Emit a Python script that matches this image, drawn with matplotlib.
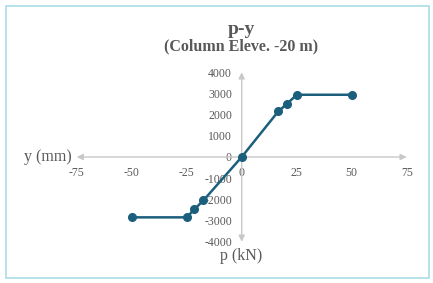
import matplotlib.pyplot as plt
from matplotlib.patches import Rectangle

# p-y curve points
p_kn = [-50, -25, -21.5, -17.4, 0, 16.6, 20.7, 25, 50]
y_mm = [-2850, -2850, -2470, -2050, 0, 2150, 2520, 2940, 2940]
xticks = [-75, -50, -25, 0, 25, 50, 75]
yticks = [-4000, -3000, -2000, -1000, 0, 1000, 2000, 3000, 4000]

plt.rcParams['font.family'] = ['Liberation Serif', 'DejaVu Serif']
plt.rcParams['axes.unicode_minus'] = False
gray = '#595959'
axis_gray = '#c8c8c8'
line_c = '#1c5f7d'

W, H = 433, 283
fig = plt.figure(figsize=(W / 100, H / 100), dpi=100)
fig.patches.append(Rectangle((5.5 / W, 1 - 277.5 / H), 423 / W, 272 / H,
                             transform=fig.transFigure, fill=False,
                             edgecolor='#a9dbe8', linewidth=1.2))

ax = fig.add_axes([76.7 / W, 1 - 241.7 / H, 330 / W, 169.4 / H])
ax.set_xlim(-75, 75)
ax.set_ylim(-4000, 4000)
for s in ax.spines.values():
    s.set_visible(False)
ax.spines['left'].set_position('zero')
ax.spines['bottom'].set_position('zero')
ax.set_xticks(xticks)
ax.set_yticks(yticks)
ax.tick_params(length=0, labelsize=8.5, labelcolor=gray)
ax.tick_params(axis='x', pad=7)
ax.tick_params(axis='y', pad=7)
ax.patch.set_alpha(0)

ax.annotate('', xy=(75, 0), xytext=(-75, 0),
            arrowprops=dict(arrowstyle='<|-|>', color=axis_gray, lw=1,
                            mutation_scale=9, shrinkA=0, shrinkB=0))
ax.annotate('', xy=(0, 4000), xytext=(0, -4000),
            arrowprops=dict(arrowstyle='<|-|>', color=axis_gray, lw=1,
                            mutation_scale=9, shrinkA=0, shrinkB=0))

ax.plot(p_kn, y_mm, color=line_c, lw=1.8, marker='o', markersize=5.5, zorder=3)

fig.text(241 / W, 1 - 29 / H, 'p-y', ha='center', va='center',
         fontsize=14, fontweight='bold', color=gray)
fig.text(241 / W, 1 - 46.5 / H, '(Column Eleve. -20 m)', ha='center', va='center',
         fontsize=11.5, fontweight='bold', color=gray)
fig.text(48 / W, 1 - 157 / H, 'y (mm)', ha='center', va='center',
         fontsize=11.5, color=gray)
fig.text(241 / W, 1 - 256 / H, 'p (kN)', ha='center', va='center',
         fontsize=11.5, color=gray)

fig.savefig('out.png', dpi=100)
